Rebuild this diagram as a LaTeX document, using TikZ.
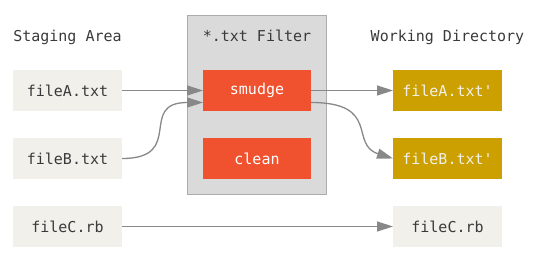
\documentclass[tikz,border=0pt]{standalone}
\usepackage{fontspec}
\setmonofont{DejaVu Sans Mono}
\usepackage{tikz}
\usetikzlibrary{arrows.meta,positioning,fit,backgrounds}
\definecolor{gitred}{HTML}{F0512E}
\definecolor{gitgold}{HTML}{CBA000}
\definecolor{gitpaper}{HTML}{F1F0EA}
\definecolor{gitgray}{HTML}{DADADA}
\definecolor{gitline}{HTML}{888888}
\definecolor{gitink}{HTML}{3A3A3A}

\begin{document}
\begin{tikzpicture}[
x=1pt,y=1pt,
node distance=27pt and 81pt,
font=\ttfamily\fontsize{15}{18}\selectfont,
file/.style={fill=gitpaper,text=gitink,inner sep=0pt,outer sep=0pt,
minimum height=41pt,minimum width=109pt},
filt/.style={file,fill=gitred,text=white},
work/.style={file,fill=gitgold,text=gitpaper},
title/.style={text=gitink,inner sep=0pt,text height=11pt,text depth=3.5pt},
flow/.style={-{Triangle[length=16pt,width=10pt]},gitline,line width=1.3pt}
]
\useasboundingbox (0,0) rectangle (540,-260);
\node[file] (fileA) at (67.5,-90.5) {fileA.txt};
\node[file,below=of fileA] (fileB) {fileB.txt};
\node[file,below=of fileB] (fileC) {fileC.rb};
\node[filt,right=81pt of fileA,minimum width=108pt] (smudge) {smudge};
\node[filt,below=of smudge,minimum width=108pt] (clean) {clean};
\node[work,right=82pt of smudge] (fileAw) {fileA.txt'};
\node[work,below=of fileAw] (fileBw) {fileB.txt'};
\node[file,below=of fileBw] (fileCw) {fileC.rb};

\node[title,above=25pt of fileA] (staging) {Staging Area};
\node[title,above=25pt of smudge] (filter) {*.txt Filter};
\node[title,above=25pt of fileAw] (workdir) {Working Directory};

\begin{scope}[on background layer]
\node[fill=gitgray,draw=gitline!70,line width=1pt,inner xsep=15pt,inner ysep=15pt,
fit=(smudge)(clean)(filter)] (filterbox) {};
\end{scope}

\draw[flow] (fileA) -- (smudge);
\draw[flow] (fileB.east) .. controls +(64,0) and +(-66,0) .. ([yshift=-12pt]smudge.west);
\draw[flow] (smudge) -- (fileAw);
\draw[flow] ([yshift=-12pt]smudge.east) .. controls +(70,0) and +(-44,14) .. (fileBw.west);
\draw[flow] (fileC) -- (fileCw);
\end{tikzpicture}
\end{document}
